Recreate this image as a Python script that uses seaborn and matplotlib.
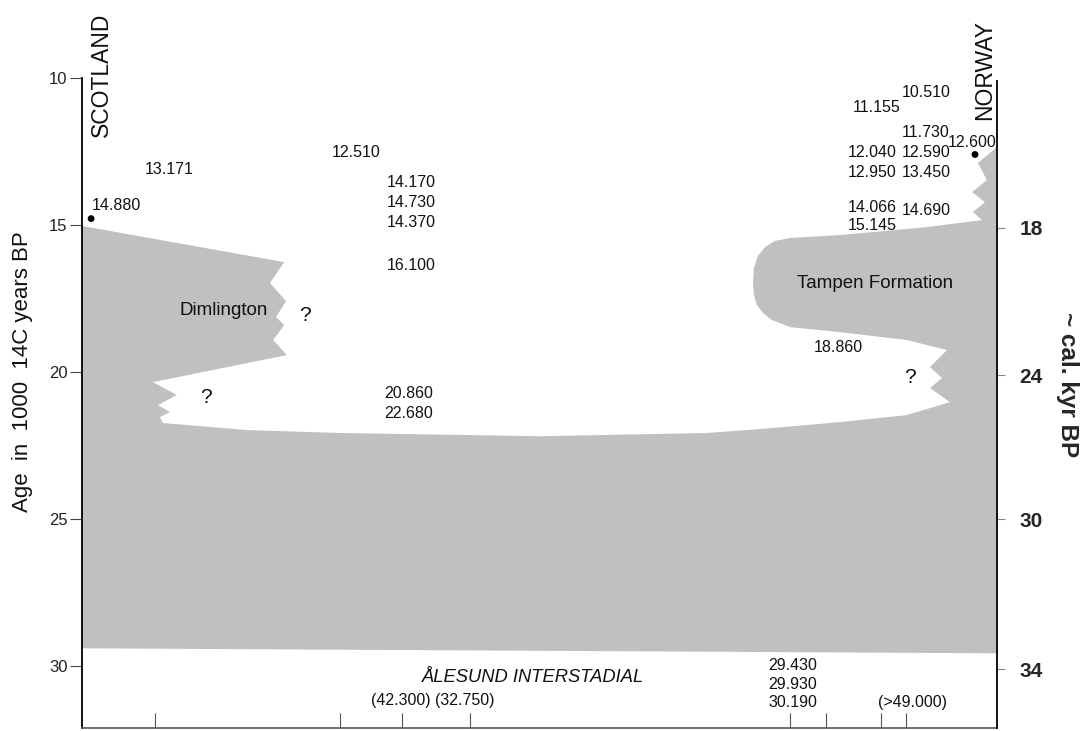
import matplotlib
matplotlib.use("Agg")
import matplotlib.pyplot as plt
import seaborn as sns

# ice extent across the North Sea: distance (0 = Scotland, 100 = Norway) and age (1000 14C yr BP)
ice_dist = [0, 0, 22.1, 20.55, 22.3, 21.2, 22.1, 20.9, 22.4,
            7.76, 10.38, 8.3, 9.62, 8.52, 8.85,
            18.03, 28.2, 50.05, 68.3, 75.52, 82.84, 90.16, 94.86,
            92.68, 93.99, 92.68, 94.54,
            90.16, 82.84, 77.38, 75.41, 74.43, 73.77, 73.44, 73.33, 73.44, 73.88, 74.64, 75.74, 77.38,
            82.84, 92.35, 98.36,
            97.38, 98.69, 97.27, 98.9, 97.92, 100, 100]
ice_age = [29.39, 15.03, 16.26, 16.97, 17.59, 18.13, 18.40, 18.91, 19.42,
           20.34, 20.78, 21.12, 21.36, 21.53, 21.73,
           21.97, 22.07, 22.18, 22.07, 21.90, 21.70, 21.46, 21.02,
           20.54, 20.20, 19.83, 19.25,
           18.91, 18.64, 18.47, 18.23, 17.99, 17.72, 17.38, 16.97, 16.46, 16.05, 15.75, 15.54, 15.44,
           15.34, 15.07, 14.83,
           14.56, 14.22, 13.88, 13.47, 12.89, 12.35, 29.56]

# dated ice-free points
dot_dist = [1.0, 97.6]
dot_age = [14.78, 12.6]

# radiocarbon dates written on the section
date_text = ['14.880', '13.171', '12.510', '14.170', '14.730', '14.370', '16.100', '20.860', '22.680',
             '10.510', '11.155', '11.730', '12.600', '12.040', '12.590', '12.950', '13.450',
             '14.066', '14.690', '15.145', '18.860',
             '(42.300)', '(32.750)', '29.430', '29.930', '30.190', '(>49.000)']
date_dist = [1.1, 6.9, 27.3, 33.3, 33.3, 33.3, 33.3, 33.0, 33.0,
             89.6, 84.2, 89.6, 94.6, 83.7, 89.6, 83.7, 89.6,
             83.7, 89.6, 83.7, 80.0,
             31.6, 38.6, 75.0, 75.0, 75.0, 87.0]
date_age = [14.32, 13.1, 12.55, 13.54, 14.22, 14.93, 16.39, 20.71, 21.39,
            10.48, 11.02, 11.84, 12.18, 12.55, 12.52, 13.2, 13.2,
            14.39, 14.49, 15.03, 19.15,
            31.16, 31.16, 29.97, 30.61, 31.22, 31.22]

# question marks (uncertain ice margin)
q_dist = [24.4, 13.55, 90.5]
q_age = [18.06, 20.85, 20.17]

# site positions along the bottom
site_dist = [7.98, 28.2, 34.97, 42.4, 77.4, 81.3, 87.3, 90.04]

# calibrated scale on the right
cal_labels = ['18', '24', '30', '34']
cal_at_14c = [15.1, 20.1, 25.0, 30.1]

sns.set_style('white')
plt.rcParams['font.family'] = ['Liberation Sans', 'DejaVu Sans']

fig = plt.figure(figsize=(10.84, 7.31), dpi=100)
ax = fig.add_axes([0.0756, 0.0041, 0.8441, 0.8892])

ax.fill(ice_dist, ice_age, color='#c0c0c0', lw=0, zorder=1)
sns.scatterplot(x=dot_dist, y=dot_age, color='black', s=24, edgecolor='none', ax=ax, zorder=5, clip_on=False)

for t, xd, yd in zip(date_text, date_dist, date_age):
    ax.text(xd, yd, t, fontsize=11.5, color='#111', ha='left', va='center')
for xd, yd in zip(q_dist, q_age):
    ax.text(xd, yd, '?', fontsize=15, color='#111', ha='center', va='center')

ax.text(20.3, 17.9, 'Dimlington', fontsize=13.5, ha='right', va='center', color='#111')
ax.text(78.1, 17.0, 'Tampen Formation', fontsize=13.5, ha='left', va='center', color='#111')
ax.text(37.2, 30.37, 'ÅLESUND INTERSTADIAL', fontsize=13.2, style='italic', ha='left', va='center', color='#111')
ax.text(2.1, 12.0, 'SCOTLAND', fontsize=16.5, rotation=90, ha='center', va='bottom', color='#111')
ax.text(98.6, 11.43, 'NORWAY', fontsize=16.5, rotation=90, ha='center', va='bottom', color='#111')

ax.set_xlim(0, 100)
ax.set_ylim(32.1, 10)
ax.set_yticks([10, 15, 20, 25, 30])
ax.tick_params(axis='y', direction='out', length=8.5, width=0.8, color='#444',
               labelsize=12, labelcolor='#222', pad=2, left=True)
ax.set_xticks(site_dist)
ax.tick_params(axis='x', direction='in', length=11, width=0.8, color='#555',
               labelbottom=False, bottom=True)
ax.set_xlabel('')
ax.set_ylabel('Age  in  1000  14C years BP', fontsize=16, color='#111')
ax.yaxis.set_label_coords(-0.0536, 0.548)

ax.spines['top'].set_visible(False)
ax.spines['right'].set_visible(False)
ax.spines['left'].set_color('black')
ax.spines['left'].set_linewidth(1.3)
ax.spines['bottom'].set_color('#555')
ax.spines['bottom'].set_linewidth(1.2)

ax2 = ax.twinx()
ax2.set_ylim(32.1, 10)
ax2.set_yticks(cal_at_14c)
ax2.set_yticklabels(cal_labels, fontsize=15, fontweight='bold')
ax2.tick_params(axis='y', direction='out', length=6, width=0.8, color='#888', pad=10, right=True)
for s in ['top', 'left', 'bottom']:
    ax2.spines[s].set_visible(False)
ax2.spines['right'].set_color('black')
ax2.spines['right'].set_linewidth(1.3)
ax2.spines['right'].set_bounds(32.1, 10.1)
ax2.text(1.0776, 0.528, '~ cal. kyr BP', transform=ax.transAxes, rotation=270,
         fontsize=17.5, fontweight='bold', ha='center', va='center')

fig.savefig('out.png', dpi=100)
